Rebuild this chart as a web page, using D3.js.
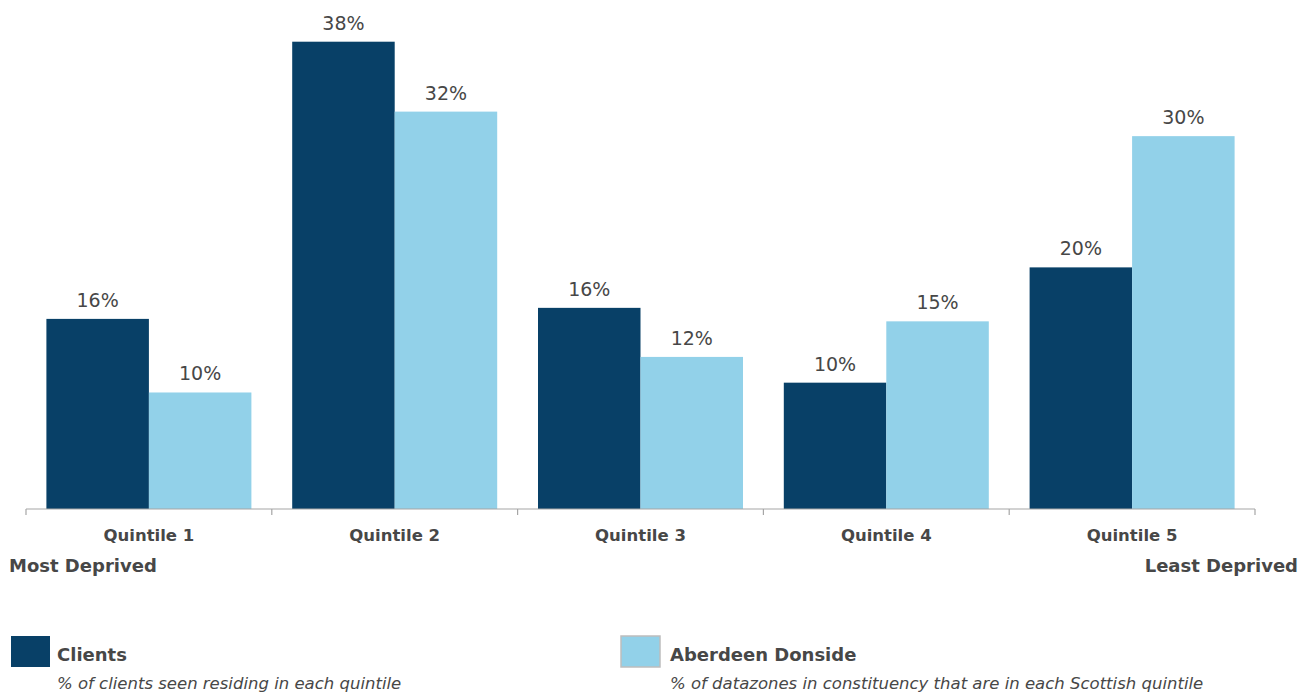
<!DOCTYPE html>
<html>
<head>
<meta charset="utf-8">
<script src="https://cdn.jsdelivr.net/npm/d3@7"></script>
<style>
  body { margin: 0; background: #fff; }
  text { font-family: "DejaVu Sans", Verdana, sans-serif; fill: #474747; }
</style>
</head>
<body>
<div id="chart"></div>
<script>
// chart data
var quintiles = ["Quintile 1", "Quintile 2", "Quintile 3", "Quintile 4", "Quintile 5"];
var seriesNames = ["Clients", "Aberdeen Donside"];
var clients = [15.5, 38.1, 16.4, 10.3, 19.7];
var donside = [9.5, 32.4, 12.4, 15.3, 30.4];
var seriesNotes = [
  "% of clients seen residing in each quintile",
  "% of datazones in constituency that are in each Scottish quintile"
];
var colors = ["#084067", "#92d1e9"];

var svgWidth = 1309;
var svgHeight = 695;

var svg = d3.select("#chart")
  .append("svg")
  .attr("width", svgWidth)
  .attr("height", svgHeight);

// axis spans x 26..1255, baseline at 509
var x0 = d3.scaleBand()
  .domain(quintiles)
  .range([26, 1255])
  .paddingInner(0.166)
  .paddingOuter(0.083);

var x1 = d3.scaleBand()
  .domain(seriesNames)
  .range([0, x0.bandwidth()]);

var y = d3.scaleLinear()
  .domain([0, 40])
  .range([509, 18.4]);

var rows = quintiles.map(function(q, i) {
  return { quintile: q, values: [clients[i], donside[i]] };
});

var groups = svg.selectAll("g.quintile")
  .data(rows)
  .enter()
  .append("g")
  .attr("class", "quintile")
  .attr("transform", d => `translate(${x0(d.quintile)},0)`);

groups.selectAll("rect")
  .data(d => d.values.map((v, j) => ({ name: seriesNames[j], value: v, idx: j })))
  .enter()
  .append("rect")
  .attr("x", d => x1(d.name))
  .attr("y", d => y(d.value))
  .attr("width", x1.bandwidth())
  .attr("height", d => y(0) - y(d.value))
  .attr("fill", d => colors[d.idx]);

groups.selectAll("text.val")
  .data(d => d.values.map((v, j) => ({ name: seriesNames[j], value: v })))
  .enter()
  .append("text")
  .attr("class", "val")
  .attr("x", d => x1(d.name) + x1.bandwidth() / 2)
  .attr("y", d => y(d.value) - 12)
  .attr("text-anchor", "middle")
  .style("font-size", "19px")
  .text(d => Math.round(d.value) + "%");

// x axis with outer ticks at the band edges
var axisG = svg.append("g")
  .attr("transform", `translate(0, ${y(0)})`);

axisG.append("line")
  .attr("x1", 26).attr("x2", 1255)
  .attr("stroke", "#a6a6a6")
  .attr("stroke-width", 1.2);

var tickPos = quintiles.map(q => x0(q) - x0.step() * x0.paddingInner() / 2);
tickPos.push(1255);
axisG.selectAll("line.tick")
  .data(tickPos)
  .enter()
  .append("line")
  .attr("class", "tick")
  .attr("x1", d => d).attr("x2", d => d)
  .attr("y1", 0).attr("y2", 6)
  .attr("stroke", "#a6a6a6")
  .attr("stroke-width", 1.2);

axisG.selectAll("text.cat")
  .data(quintiles)
  .enter()
  .append("text")
  .attr("class", "cat")
  .attr("x", d => x0(d) + x0.bandwidth() / 2)
  .attr("y", 32)
  .attr("text-anchor", "middle")
  .style("font-size", "16.5px")
  .style("font-weight", "bold")
  .text(d => d);

svg.append("text")
  .attr("x", 9).attr("y", 572)
  .style("font-size", "18px")
  .style("font-weight", "bold")
  .text("Most Deprived");

svg.append("text")
  .attr("x", 1298).attr("y", 572)
  .attr("text-anchor", "end")
  .style("font-size", "18px")
  .style("font-weight", "bold")
  .text("Least Deprived");

// legend
var legendX = [11, 621];
var legendTextX = [46, 49];
var legend = svg.selectAll("g.legend")
  .data(seriesNames)
  .enter()
  .append("g")
  .attr("class", "legend")
  .attr("transform", (d, i) => `translate(${legendX[i]}, 636)`);

legend.append("rect")
  .attr("width", 39)
  .attr("height", 31)
  .attr("fill", (d, i) => colors[i])
  .attr("stroke", (d, i) => i === 1 ? "#bdbdbd" : "none")
  .attr("stroke-width", 1.5);

legend.append("text")
  .attr("x", (d, i) => legendTextX[i]).attr("y", 25)
  .style("font-size", "18px")
  .style("font-weight", "bold")
  .text(d => d);

legend.append("text")
  .attr("x", (d, i) => legendTextX[i]).attr("y", 53)
  .style("font-size", "16.5px")
  .style("font-style", "italic")
  .text((d, i) => seriesNotes[i]);
</script>
</body>
</html>
